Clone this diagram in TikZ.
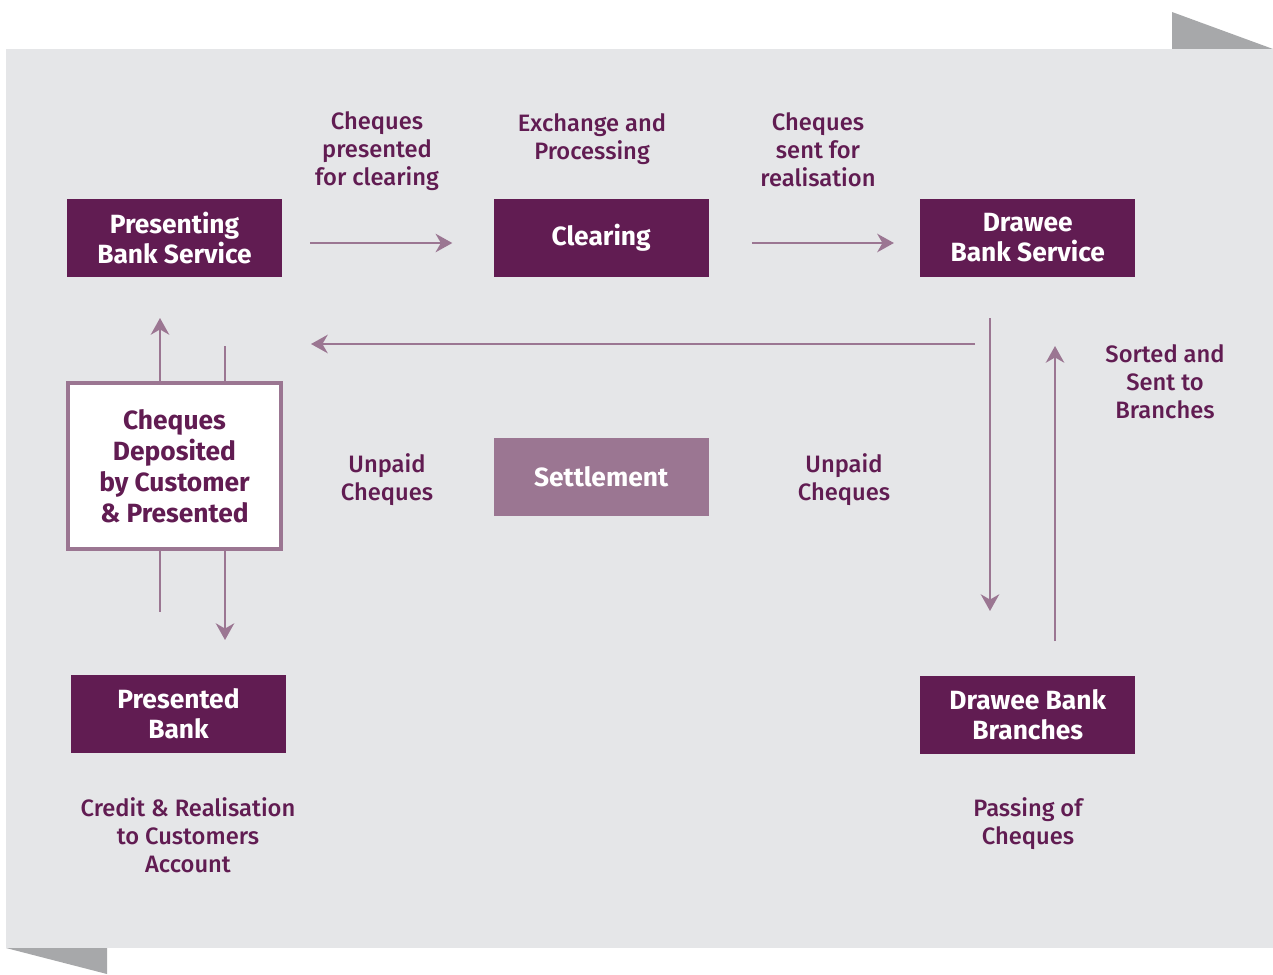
\documentclass[tikz,border=0pt]{standalone}
\usepackage{fontspec}
\setmainfont{Fira Sans}
\newfontfamily\lblfont{Fira Sans}[UprightFont=* Medium]
\usetikzlibrary{arrows.meta, positioning}
\definecolor{plum}{RGB}{97,28,82}
\definecolor{mauve}{RGB}{155,118,146}
\definecolor{sheet}{RGB}{229,230,232}
\definecolor{fold}{RGB}{167,168,170}

\begin{document}
\begin{tikzpicture}[x=0.02cm, y=-0.02cm,
  box/.style = {fill=plum, text=white, align=center, inner sep=0,
    minimum width=4.3cm, minimum height=1.56cm,
    font=\bfseries\fontsize{15}{17}\selectfont},
  pale/.style = {fill=mauve},
  framed/.style = {fill=white, draw=mauve, line width=2.3pt, text=plum,
    minimum width=4.26cm, minimum height=3.32cm,
    font=\bfseries\fontsize{15}{17.6}\selectfont},
  lbl/.style = {text=plum, align=center, inner sep=0,
    font=\lblfont\fontsize{13.5}{16}\selectfont},
  flow/.style = {draw=mauve, line width=1.4pt,
    -{Stealth[length=9.5pt, width=10.5pt, inset=3pt]}},
  plain/.style = {draw=mauve, line width=1.4pt},
  ]
  \useasboundingbox (0,0) rectangle (1273,974);
  \fill[fold] (1172,12) -- (1273,49) -- (1172,49) -- cycle;
  \fill[fold] (6,948) -- (107,948) -- (107,974) -- cycle;
  \fill[sheet] (6,49) rectangle (1273,948);

  \node[box] (psvc) at (174.5,238) {Presenting\\Bank Service};
  \node[box, right = 4.22cm of psvc] (clr) {Clearing};
  \node[box, right = 4.22cm of clr] (dsvc) {Drawee\\Bank Service};
  \node[box, pale, below = 3.2cm of clr] (settle) {Settlement};
  \node[box, framed] (dep) at (174.5,466) {Cheques\\Deposited\\by Customer\\\& Presented};
  \node[box] (pbank) at (178.5,714) {Presented\\Bank};
  \node[box, below = 7.96cm of dsvc] (dbranch) {Drawee Bank\\Branches};

  \node[lbl] (lpres) at (377,151.5) {Cheques\\presented\\for clearing};
  \node[lbl] (lexch) at (592,139.5) {Exchange and\\Processing};
  \node[lbl] (lsent) at (818,150) {Cheques\\sent for\\realisation};
  \node[lbl] (lsort) at (1165,382) {Sorted and\\Sent to\\Branches};
  \node[lbl] (lunp1) at (387,480) {Unpaid\\Cheques};
  \node[lbl] (lunp2) at (844,480) {Unpaid\\Cheques};
  \node[lbl] (lcred) at (188,835) {Credit \& Realisation\\to Customers\\Account};
  \node[lbl] (lpass) at (1028,823.5) {Passing of\\Cheques};

  \coordinate (retR) at (975,344);
  \coordinate (retL) at (311,344);
  \coordinate (upA) at (160,318);
  \coordinate (inB) at (225,346);
  \coordinate (outA) at (160,612);
  \coordinate (outB) at (225,640);
  \coordinate (dnT) at (990,318);
  \coordinate (dnB) at (990,611);
  \coordinate (upT) at (1055,346);
  \coordinate (upB) at (1055,641);

  \draw[flow, shorten <=0.56cm, shorten >=0.82cm] ([yshift=-0.1cm]psvc.east) -- ([yshift=-0.1cm]clr.west);
  \draw[flow, shorten <=0.86cm, shorten >=0.52cm] ([yshift=-0.1cm]clr.east) -- ([yshift=-0.1cm]dsvc.west);
  \draw[flow] (retR) -- (retL);
  \draw[flow] (upA |- dep.north) -- (upA);
  \draw[plain] (inB) -- (inB |- dep.north);
  \draw[plain] (outA |- dep.south) -- (outA);
  \draw[flow] (outB |- dep.south) -- (outB);
  \draw[flow] (dnT) -- (dnB);
  \draw[flow] (upB) -- (upT);
\end{tikzpicture}
\end{document}
